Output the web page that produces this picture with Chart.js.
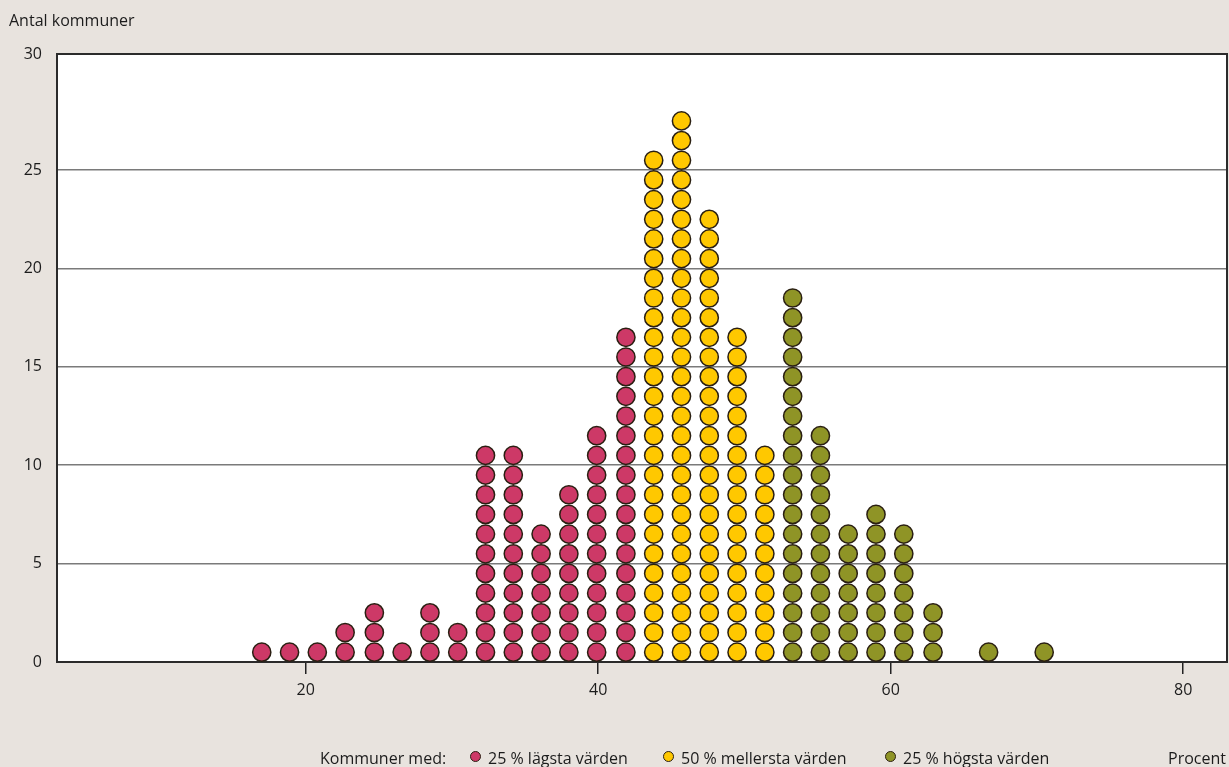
<!DOCTYPE html>
<html lang="sv">
<head>
<meta charset="utf-8">
<title>Antal kommuner</title>
<script src="https://cdn.jsdelivr.net/npm/chart.js@4/dist/chart.umd.min.js"></script>
<style>
  html, body { margin: 0; padding: 0; background: #e8e3de; }
  #wrap { position: relative; width: 1229px; height: 767px; font-family: "Open Sans", "Noto Sans", sans-serif; color: #1c1c1c; }
  #wrap canvas { position: absolute; left: 0; top: 0; }
  .txt { position: absolute; font-size: 16px; line-height: 20px; white-space: nowrap; }
  .dot { position: absolute; width: 9px; height: 9px; border-radius: 50%; border: 1.5px solid #2a1f12; }
</style>
</head>
<body>
<div id="wrap">
  <canvas id="dotChart" width="1229" height="767"></canvas>
  <div class="txt" style="left:9px; top:10px;">Antal kommuner</div>
  <div id="legend"></div>
  <div class="txt" style="left:1168px; top:748px;">Procent</div>
</div>
<script>
// stapel-positioner (procent) och antal kommuner per stapel
const lowX = [17.0, 18.9, 20.8, 22.7, 24.7, 26.6, 28.5, 30.4, 32.3, 34.2, 36.1, 38.0, 39.9, 41.9];
const lowCount = [1, 1, 1, 2, 3, 1, 3, 2, 11, 11, 7, 9, 12, 17];

const midX = [43.8, 45.7, 47.6, 49.5, 51.4];
const midCount = [26, 28, 23, 17, 11];

const highX = [53.3, 55.2, 57.1, 59.0, 60.9, 62.9, 66.7, 70.5];
const highCount = [19, 12, 7, 8, 7, 3, 1, 1];

const seriesLabels = ['25 % lägsta värden', '50 % mellersta värden', '25 % högsta värden'];
const seriesColors = ['#cd3967', '#ffc800', '#8f9426'];

const xTicks = [20, 40, 60, 80];
const yTicks = [0, 5, 10, 15, 20, 25, 30];

const X_MIN = 3, X_MAX = 83, Y_MAX = 30.9;

function stackDots(xs, counts) {
  const pts = [];
  xs.forEach((x, i) => {
    for (let j = 0; j < counts[i]; j++) pts.push({ x: x, y: j + 0.5 });
  });
  return pts;
}

const plotFrame = {
  id: 'plotFrame',
  beforeDraw(chart) {
    const { ctx, chartArea: a } = chart;
    ctx.save();
    ctx.fillStyle = '#ffffff';
    ctx.fillRect(a.left, a.top, a.right - a.left, a.bottom - a.top);
    ctx.restore();
  },
  beforeDatasetsDraw(chart) {
    const { ctx, chartArea: a } = chart;
    ctx.save();
    ctx.strokeStyle = '#2b2b2b';
    ctx.lineWidth = 2;
    ctx.strokeRect(a.left, a.top, a.right - a.left, a.bottom - a.top);
    ctx.restore();
  }
};

function makeDataset(i, pts) {
  return {
    label: seriesLabels[i],
    data: pts,
    backgroundColor: seriesColors[i],
    borderColor: '#2a1f12',
    pointRadius: 9.1,
    pointHoverRadius: 9.1,
    pointBorderWidth: 1.5,
    showLine: false
  };
}

const font = { family: '"Open Sans", "Noto Sans", sans-serif', size: 16 };

new Chart(document.getElementById('dotChart'), {
  type: 'scatter',
  data: {
    datasets: [
      makeDataset(0, stackDots(lowX, lowCount)),
      makeDataset(1, stackDots(midX, midCount)),
      makeDataset(2, stackDots(highX, highCount))
    ]
  },
  options: {
    responsive: false,
    animation: false,
    layout: { autoPadding: false, padding: { top: 54, right: 2, left: 0, bottom: 0 } },
    plugins: { legend: { display: false }, tooltip: { enabled: false } },
    scales: {
      x: {
        type: 'linear',
        min: X_MIN,
        max: X_MAX,
        afterBuildTicks: s => { s.ticks = xTicks.map(v => ({ value: v })); },
        afterFit: s => { s.height = 105; s.paddingLeft = 0; s.paddingRight = 0; },
        grid: { drawOnChartArea: false, drawTicks: true, tickLength: 12, color: '#222', lineWidth: 1.5 },
        border: { display: true, color: '#2b2b2b', width: 2 },
        ticks: { font: font, color: '#1c1c1c', padding: 7, maxRotation: 0 }
      },
      y: {
        type: 'linear',
        min: 0,
        max: Y_MAX,
        // översta etiketten (30) sitter vid diagrammets överkant
        afterBuildTicks: s => {
          s.ticks = yTicks.map((v, i) => ({ value: i === yTicks.length - 1 ? Y_MAX : v }));
        },
        afterFit: s => { s.width = 57; s.paddingTop = 0; s.paddingBottom = 0; },
        grid: { drawTicks: false, color: '#7a7a7a', lineWidth: 1.5 },
        border: { display: true, color: '#2b2b2b', width: 2 },
        ticks: {
          font: font, color: '#1c1c1c', padding: 15,
          callback: (v, i) => String(yTicks[i])
        }
      }
    }
  },
  plugins: [plotFrame]
});

// legend i HTML
const legend = document.getElementById('legend');
const legendLeft = [476, 669, 891];
const head = document.createElement('div');
head.className = 'txt';
head.style.left = '320px';
head.style.top = '748px';
head.textContent = 'Kommuner med:';
legend.appendChild(head);
seriesLabels.forEach((lab, i) => {
  const d = document.createElement('div');
  d.className = 'dot';
  d.style.background = seriesColors[i];
  d.style.left = (legendLeft[i] - 6) + 'px';
  d.style.top = '751px';
  legend.appendChild(d);
  const t = document.createElement('div');
  t.className = 'txt';
  t.style.left = (legendLeft[i] + 12) + 'px';
  t.style.top = '748px';
  t.textContent = lab;
  legend.appendChild(t);
});
</script>
</body>
</html>
